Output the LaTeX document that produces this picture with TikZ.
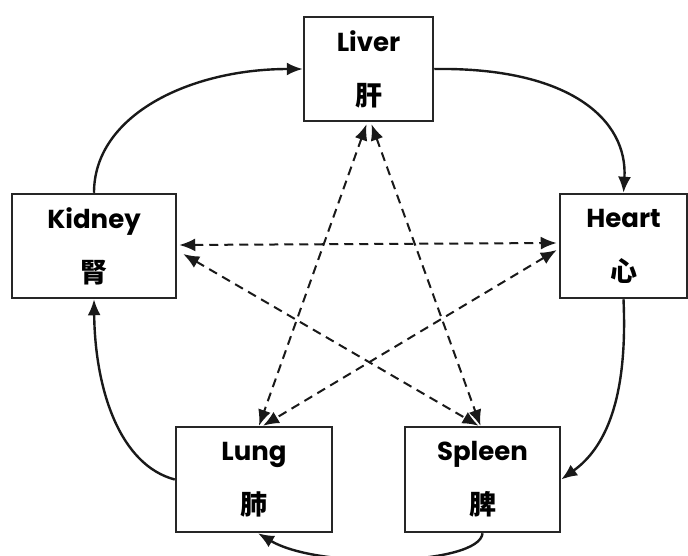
\documentclass[tikz,border=0pt]{standalone}
\usepackage{fontspec}
\setmainfont{Poppins}
\newfontfamily\cjk{Noto Sans CJK SC}
\usetikzlibrary{arrows.meta,calc}
\tikzset{
  organ/.style={draw=black!85, line width=2.5pt, fill=white, align=center, inner sep=0pt,
    font=\fontsize{26}{54}\selectfont\bfseries},
  zh/.style={},
  gen/.style={draw=black!90, line width=2.4pt, -{Latex[length=16pt,width=13pt]}},
  ctrl/.style={draw=black!90, line width=2pt, dash pattern=on 9pt off 6pt, {Latex[length=16pt,width=13pt]}-{Latex[length=16pt,width=13pt]}}
}
\newcommand\zhtext[1]{{\cjk\fontsize{27}{54}\selectfont #1}}
\begin{document}
\begin{tikzpicture}[x=1pt,y=-1pt]
\useasboundingbox (0,0) rectangle (688,555);
\fill[white] (0,0) rectangle (688,555);
\node[organ, minimum width=129pt, minimum height=104pt] (liv) at (368.5,69) {Liver\\\zhtext{肝}};
\node[organ, minimum width=127pt, minimum height=104pt] (hea) at (623.5,246) {Heart\\\zhtext{心}};
\node[organ, minimum width=164pt, minimum height=104pt] (kid) at (94,246) {Kidney\\\zhtext{腎}};
\node[organ, minimum width=156pt, minimum height=105pt] (lun) at (254,479.5) {Lung\\\zhtext{肺}};
\node[organ, minimum width=155pt, minimum height=105pt] (spl) at (482.5,479.5) {Spleen\\\zhtext{脾}};
% generating cycle
\draw[gen] (kid.north) .. controls (94,115) and (190,69) .. (liv.west);
\draw[gen] (liv.east) .. controls (570,67) and (628,120) .. (hea.north);
\draw[gen] (hea.south) .. controls (628,400) and (605,448) .. (spl.east);
\draw[gen] (spl.south) .. controls (480,565) and (320,570) .. ($(lun.south)+(4,0)$);
\draw[gen] (lun.west) .. controls (120,465) and (95,390) .. (kid.south);
% controlling star
\draw[ctrl] ($(kid.east)+(2,-1)$) -- ($(hea.west)+(-2,-3)$);
\draw[ctrl] ($(kid.east)+(6,8)$) -- ($(spl.north)+(-4,0)$);
\draw[ctrl] ($(liv.south)+(-2,2)$) -- ($(lun.north)+(5,0)$);
\draw[ctrl] ($(liv.south)+(3,2)$) -- ($(spl.north)+(-2,0)$);
\draw[ctrl] ($(hea.west)+(-2,4)$) -- ($(lun.north)+(9,0)$);
\end{tikzpicture}
\end{document}
